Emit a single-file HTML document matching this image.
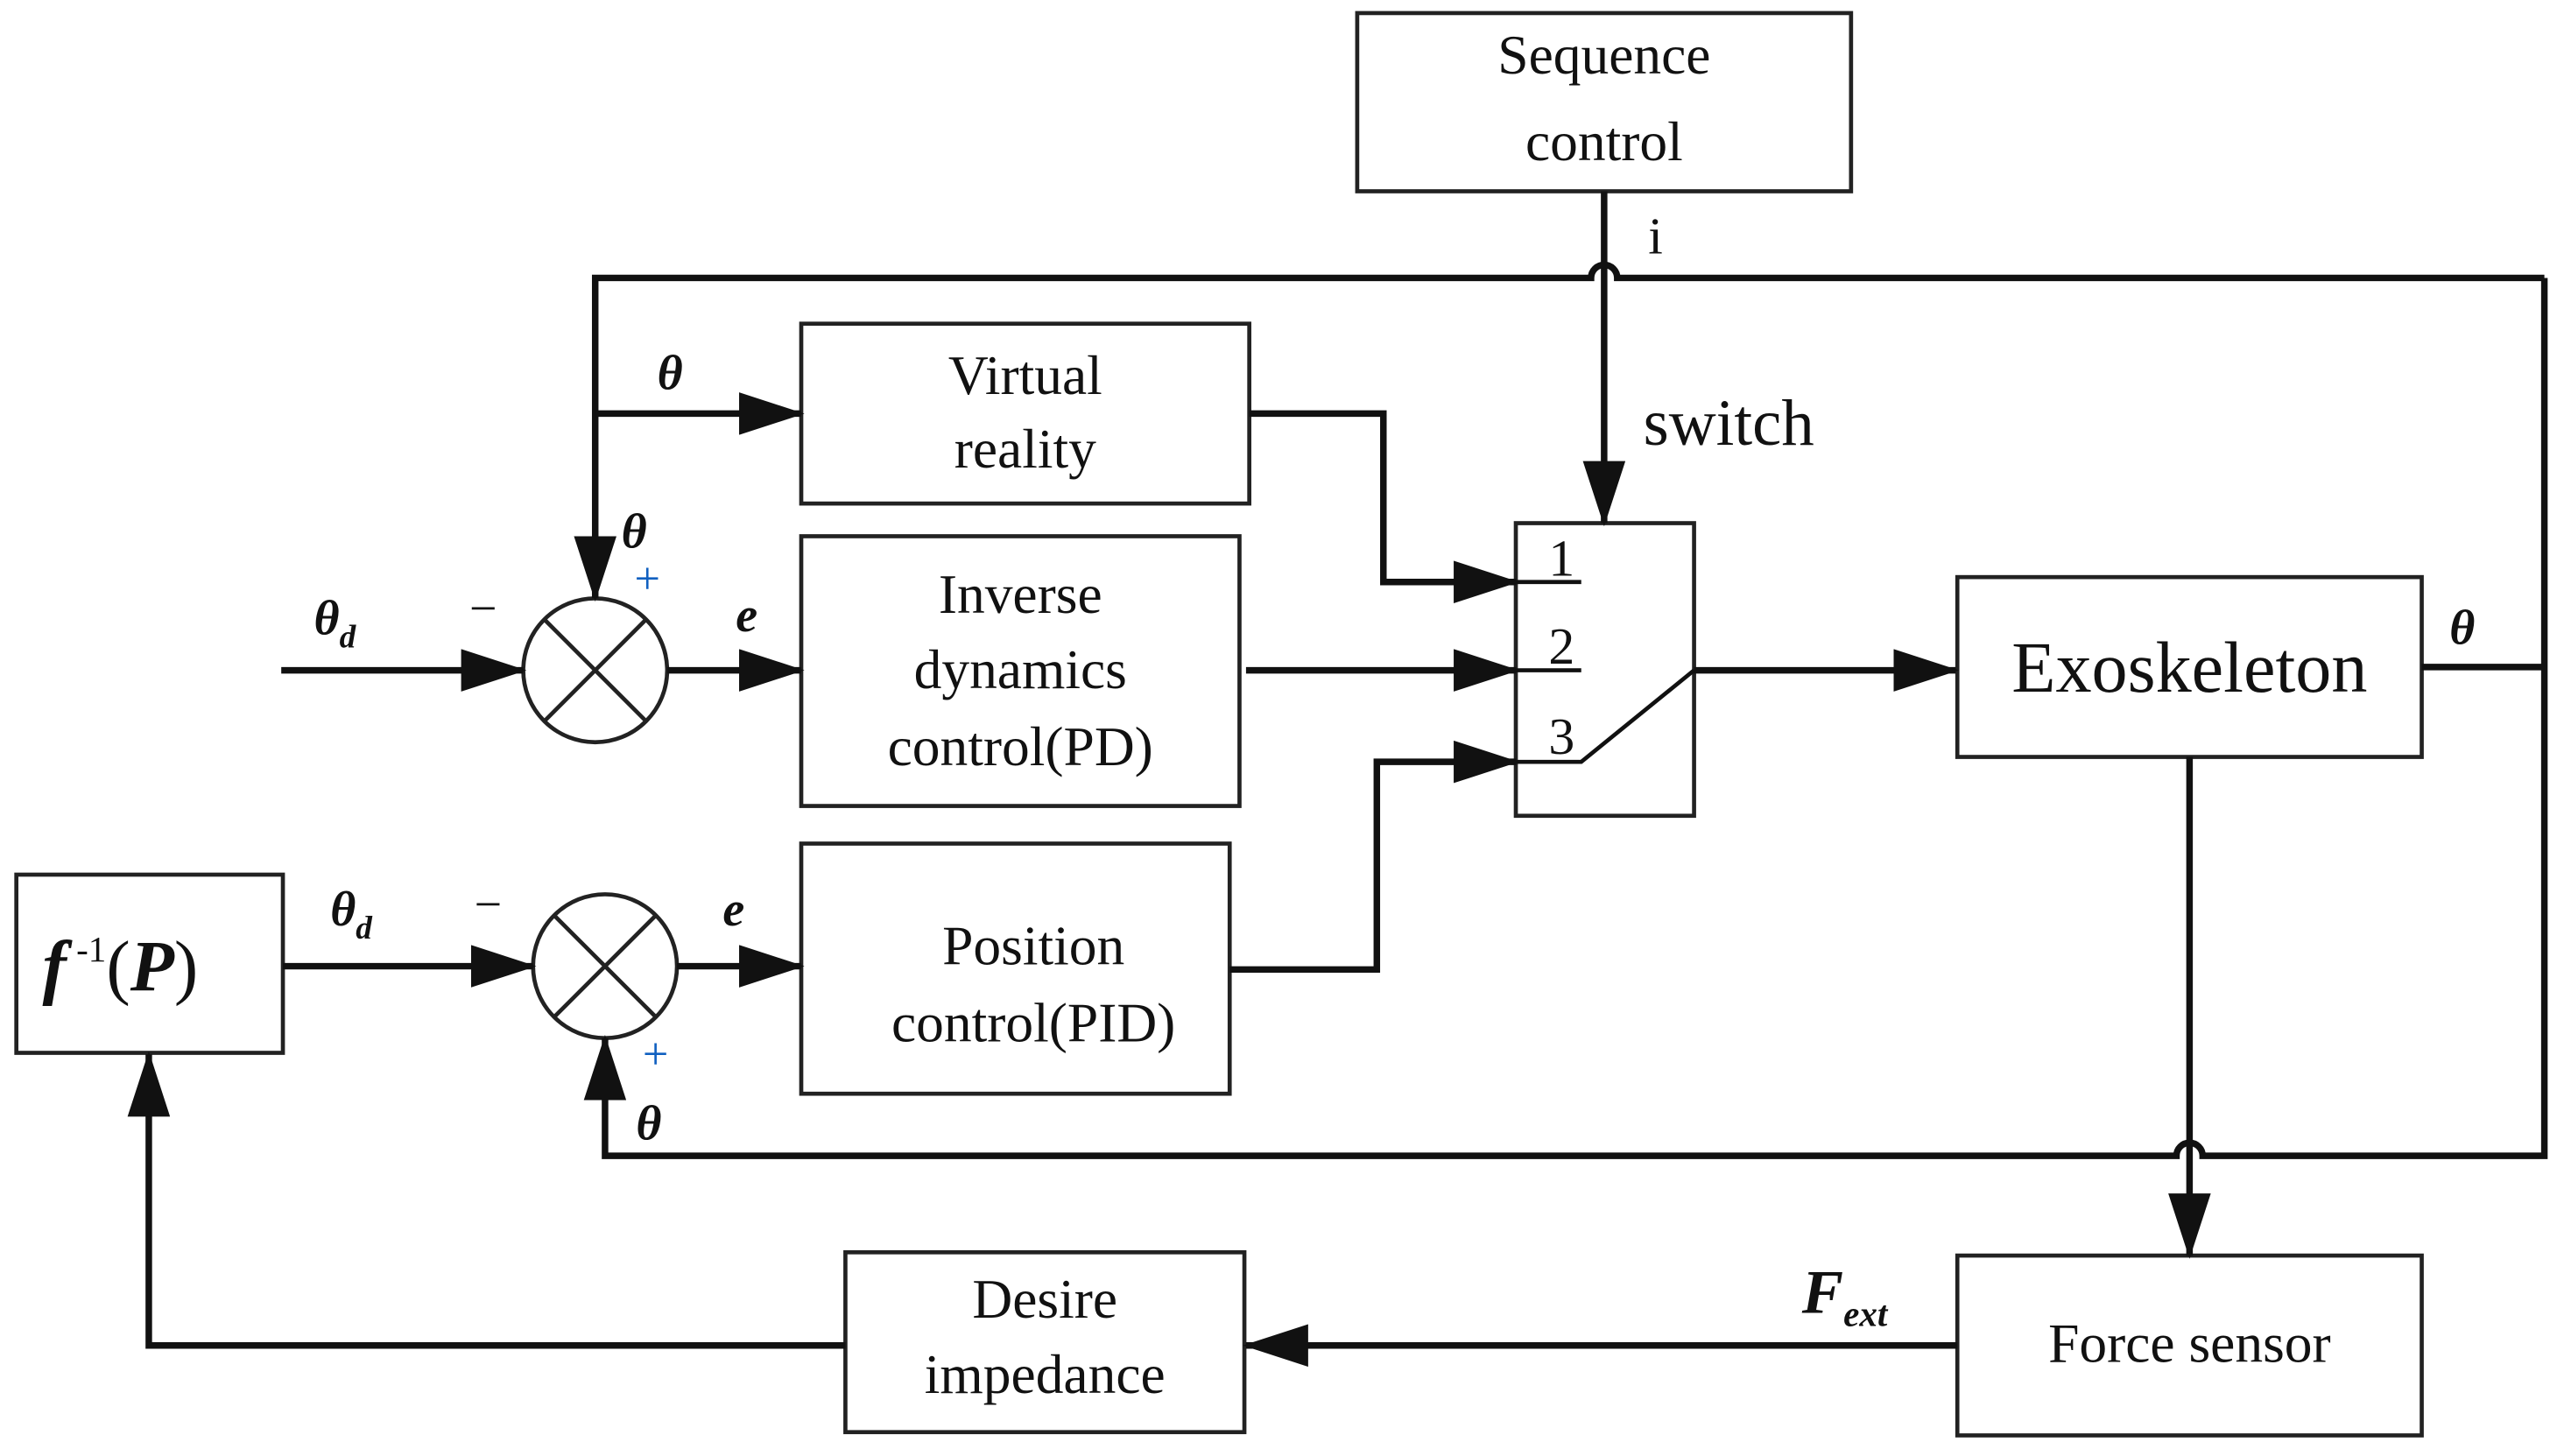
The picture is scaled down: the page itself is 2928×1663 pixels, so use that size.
<!DOCTYPE html>
<html><head><meta charset="utf-8"><style>
html,body{margin:0;padding:0;background:#fff;}
svg{display:block;}
text{font-family:"Liberation Serif",serif;fill:#111;}
.b{fill:none;stroke:#222;stroke-width:2.5;}
.l{fill:none;stroke:#111;stroke-width:4;}
.t{font-size:34px;text-anchor:middle;}
.g{font-style:italic;font-weight:bold;font-size:30px;}
</style></head><body>
<svg width="2928" height="1663" viewBox="0 0 1568 890.6" preserveAspectRatio="none" xmlns="http://www.w3.org/2000/svg">
<defs>
<marker id="a" markerUnits="userSpaceOnUse" markerWidth="40" markerHeight="26" refX="38" refY="13" orient="auto"><path d="M0,0 L40,13 L0,26 z" fill="#111"/></marker>
</defs>
<rect class="b" x="830" y="8" width="302" height="109"/>
<rect class="b" x="490" y="198" width="274" height="110"/>
<rect class="b" x="490" y="328" width="268" height="165"/>
<rect class="b" x="490" y="516" width="262" height="153"/>
<rect class="b" x="10" y="535" width="163" height="109"/>
<rect class="b" x="927" y="320" width="109" height="179"/>
<rect class="b" x="1197" y="353" width="284" height="110"/>
<rect class="b" x="1197" y="768" width="284" height="110"/>
<rect class="b" x="517" y="766" width="244" height="110"/>
<circle class="b" cx="364" cy="410" r="44"/>
<line class="b" x1="333" y1="379" x2="395" y2="441"/><line class="b" x1="395" y1="379" x2="333" y2="441"/>
<circle class="b" cx="370" cy="591" r="44"/>
<line class="b" x1="339" y1="560" x2="401" y2="622"/><line class="b" x1="401" y1="560" x2="339" y2="622"/>
<line stroke="#111" stroke-width="2.5" x1="927" y1="356" x2="967" y2="356"/>
<line stroke="#111" stroke-width="2.5" x1="927" y1="410" x2="967" y2="410"/>
<polyline fill="none" stroke="#111" stroke-width="2.5" points="927,466 967,466 1036,410"/>
<path class="l" d="M981,117 V320" marker-end="url(#a)"/>
<path class="l" d="M1556,170 H989 A8,8 0 0 0 973,170 H364 V366" marker-end="url(#a)"/>
<path class="l" d="M1556,170 V707 H1347 A8,8 0 0 0 1331,707 H370 V635" marker-end="url(#a)"/>
<path class="l" d="M364,253 H490" marker-end="url(#a)"/>
<path class="l" d="M172,410 H320" marker-end="url(#a)"/>
<path class="l" d="M408,410 H490" marker-end="url(#a)"/>
<path class="l" d="M173,591 H326" marker-end="url(#a)"/>
<path class="l" d="M414,591 H490" marker-end="url(#a)"/>
<path class="l" d="M764,253 H846 V356 H927" marker-end="url(#a)"/>
<path class="l" d="M762,410 H927" marker-end="url(#a)"/>
<path class="l" d="M752,593 H842 V466 H927" marker-end="url(#a)"/>
<path class="l" d="M1036,410 H1196" marker-end="url(#a)"/>
<path class="l" d="M1481,408 H1556"/>
<path class="l" d="M1339,463 V768" marker-end="url(#a)"/>
<path class="l" d="M1197,823 H762" marker-end="url(#a)"/>
<path class="l" d="M517,823 H91 V645" marker-end="url(#a)"/>
<text class="t" x="981" y="45">Sequence</text>
<text class="t" x="981" y="98">control</text>
<text class="t" x="627" y="241">Virtual</text>
<text class="t" x="627" y="286">reality</text>
<text class="t" x="624" y="375">Inverse</text>
<text class="t" x="624" y="421">dynamics</text>
<text class="t" x="624" y="468">control(PD)</text>
<text class="t" x="632" y="590">Position</text>
<text class="t" x="632" y="637">control(PID)</text>
<text class="t" x="1339" y="423" style="font-size:44px">Exoskeleton</text>
<text class="t" x="1339" y="833">Force sensor</text>
<text class="t" x="639" y="806">Desire</text>
<text class="t" x="639" y="852">impedance</text>
<text x="26" y="606" style="font-size:44px;font-weight:bold;font-style:italic">f<tspan style="font-size:22px;font-style:normal;font-weight:normal" dx="6" dy="-18">-1</tspan><tspan dy="18" style="font-style:normal;font-weight:normal">(</tspan>P<tspan style="font-style:normal;font-weight:normal">)</tspan></text>
<text x="955" y="352" style="font-size:32px" text-anchor="middle">1</text>
<text x="955" y="406" style="font-size:32px" text-anchor="middle">2</text>
<text x="955" y="461" style="font-size:32px" text-anchor="middle">3</text>
<text x="1005" y="272" style="font-size:40px">switch</text>
<text x="1008" y="155" style="font-size:32px">i</text>
<text class="g" x="402" y="238">θ</text>
<text class="g" x="192" y="388">θ<tspan style="font-size:20px" dy="8">d</tspan></text>
<text x="287" y="382" style="font-size:30px">−</text>
<text class="g" x="380" y="335">θ</text>
<text x="388" y="363" style="font-size:28px;fill:#1060c0">+</text>
<text class="g" x="450" y="386">e</text>
<text class="g" x="202" y="566">θ<tspan style="font-size:20px" dy="8">d</tspan></text>
<text x="290" y="563" style="font-size:30px">−</text>
<text class="g" x="442" y="566">e</text>
<text x="393" y="654" style="font-size:28px;fill:#1060c0">+</text>
<text class="g" x="389" y="697">θ</text>
<text class="g" x="1498" y="394">θ</text>
<text x="1102" y="803" style="font-size:38px;font-style:italic;font-weight:bold">F<tspan style="font-size:22px" dy="8">ext</tspan></text>
</svg>
</body></html>
